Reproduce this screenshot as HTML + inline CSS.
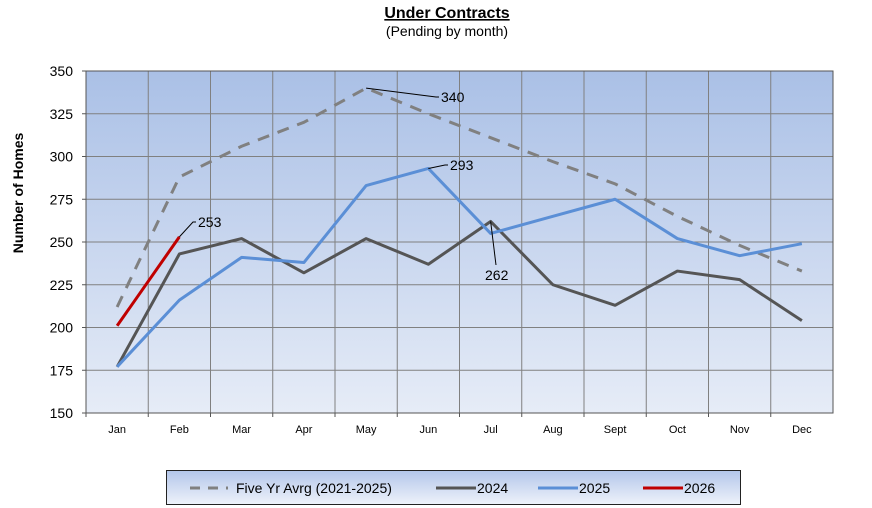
<!DOCTYPE html>
<html><head><meta charset="utf-8"><style>
body{margin:0;background:#fff;width:872px;height:508px;overflow:hidden;font-family:"Liberation Sans",Arial,sans-serif}
svg{display:block}
</style></head><body>
<svg id="chart" width="872" height="508">
<defs>
<linearGradient id="bg" x1="0" y1="0" x2="0" y2="1"><stop offset="0" stop-color="#aac0e6"/><stop offset="1" stop-color="#e6ecf7"/></linearGradient>
<linearGradient id="lg" x1="0" y1="0" x2="0" y2="1"><stop offset="0" stop-color="#b3c6ea"/><stop offset="1" stop-color="#eef2fa"/></linearGradient>
</defs>
<text x="447" y="18" text-anchor="middle" font-size="16" font-weight="bold" text-decoration="underline">Under Contracts</text>
<text x="447" y="36" text-anchor="middle" font-size="14">(Pending by month)</text>
<text transform="translate(23,193) rotate(-90)" text-anchor="middle" font-size="14" font-weight="bold">Number of Homes</text>
<rect x="86" y="71" width="747" height="342" fill="url(#bg)"/>
<g id="grid"></g><g id="series"></g><g id="labels"></g>
<rect x="86" y="71" width="747" height="342" fill="none" stroke="#555" stroke-width="1"/>
<g>
<rect x="166.5" y="470.5" width="574" height="34" fill="url(#lg)" stroke="#222"/>
<line x1="190" y1="488" x2="228" y2="488" stroke="#808080" stroke-width="3" stroke-dasharray="10,8"/>
<text x="236" y="493" font-size="14">Five Yr Avrg (2021-2025)</text>
<line x1="436" y1="488" x2="476" y2="488" stroke="#555" stroke-width="3"/>
<text x="477" y="493" font-size="14">2024</text>
<line x1="538" y1="488" x2="578" y2="488" stroke="#5b8fd6" stroke-width="3"/>
<text x="579" y="493" font-size="14">2025</text>
<line x1="643" y1="488" x2="683" y2="488" stroke="#c00000" stroke-width="3"/>
<text x="684" y="493" font-size="14">2026</text>
</g>
</svg>
<script>
const months=["Jan","Feb","Mar","Apr","May","Jun","Jul","Aug","Sept","Oct","Nov","Dec"];
const yTicks=[150,175,200,225,250,275,300,325,350];
const fiveYr=[212,288,306,320,340,325,311,297,284,265,248,233];
const y2024=[177,243,252,232,252,237,262,225,213,233,228,204];
const y2025=[177,216,241,238,283,293,255,265,275,252,242,249];
const y2026=[201,253];
const NS="http://www.w3.org/2000/svg";
const L=86,T=71,W=747,H=342,ymin=150,ymax=350;
const xs=i=>L+W/12*(i+0.5);
const ys=v=>T+H-(v-ymin)/(ymax-ymin)*H;
function mk(tag,a,parent){const e=document.createElementNS(NS,tag);for(const k in a)e.setAttribute(k,a[k]);document.getElementById(parent).appendChild(e);return e;}
yTicks.forEach(v=>{
 const y=ys(v);
 const g=mk("line",{x1:L,x2:L+W,y1:y,y2:y,stroke:"#808080","stroke-width":1},"grid");
 
 
 mk("line",{x1:L-4,x2:L,y1:y,y2:y,stroke:"#555"},"grid");
 const t=mk("text",{x:L-13,y:y+5,"text-anchor":"end","font-size":14},"grid");t.textContent=v;
 
 
});
months.forEach((m,i)=>{
 const x=L+W/12*(i+1);
 if(i<11){const g=mk("line",{x1:x,x2:x,y1:T,y2:T+H,stroke:"#808080"},"grid");
 
 }
 mk("line",{x1:L+W/12*i,x2:L+W/12*i,y1:T+H,y2:T+H+4,stroke:"#555"},"grid");
 const t=mk("text",{x:xs(i),y:T+H+20,"text-anchor":"middle","font-size":11},"grid");t.textContent=m;
 
 
});
function line(data,color,dash,name){
 const p=mk("polyline",{points:data.map((v,i)=>xs(i)+","+ys(v)).join(" "),fill:"none",stroke:color,"stroke-width":3,"stroke-dasharray":dash||"none","stroke-linejoin":"round"},"series");
 
 
}
line(fiveYr,"#808080","12,9","five-yr-avg-line");
line(y2024,"#555555",null,"line-2024");
line(y2025,"#5b8fd6",null,"line-2025");
line(y2026,"#c00000",null,"line-2026");
function callout(i,v,tx,ty,name){
 mk("polyline",{points:`${xs(i)},${ys(v)} ${tx-5},${ty-5} ${tx-2},${ty-5}`,fill:"none",stroke:"#000","stroke-width":1},"labels");
 const t=mk("text",{x:tx,y:ty,"font-size":14},"labels");t.textContent=v;
 
 
}
callout(4,fiveYr[4],441,102,"label-340");
callout(5,y2025[5],450,170,"label-293");
callout(1,y2026[1],198,227,"label-253");
{const i=6,v=y2024[6];mk("line",{x1:xs(i),y1:ys(v),x2:496,y2:265,stroke:"#000"},"labels");
 const t=mk("text",{x:485,y:280,"font-size":14},"labels");t.textContent=v;
 
 }
</script>
</body></html>
